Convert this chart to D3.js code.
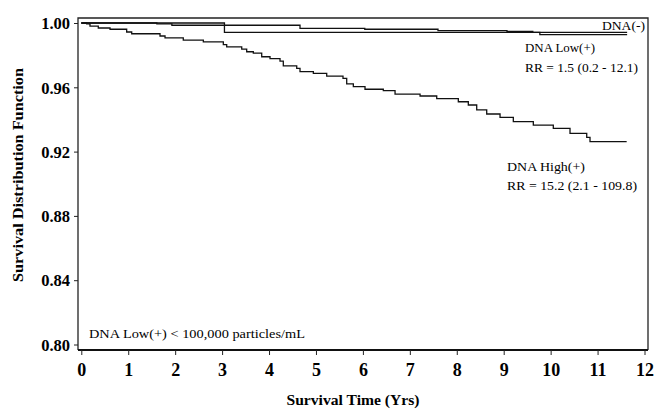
<!DOCTYPE html>
<html>
<head>
<meta charset="utf-8">
<script src="https://cdn.jsdelivr.net/npm/d3@7"></script>
<style>
  body { margin: 0; background: #fff; }
  text { font-family: "Liberation Serif", "Times New Roman", serif; fill: #000; }
</style>
</head>
<body>
<div id="chart"></div>
<script>
// =================================== DATA ===================================

const xTicks = [0, 1, 2, 3, 4, 5, 6, 7, 8, 9, 10, 11, 12]
const yTicks = [0.80, 0.84, 0.88, 0.92, 0.96, 1.00]

// DNA(-) : step times and survival after each step
const timeNeg = [0, 1.61, 1.93, 4.66, 6.04, 7.60, 9.07, 9.62, 9.77, 11.63]
const survNeg = [1.0, 0.9994, 0.9986, 0.9967, 0.9961, 0.9952, 0.9947, 0.9942, 0.9928, 0.9928]

// DNA Low(+)
const timeLow = [0, 3.05, 11.63]
const survLow = [1.0, 0.9942, 0.9942]

// DNA High(+)
const timeHigh = [0, 0.115, 0.185, 0.362, 0.612, 0.967, 1.074, 1.677, 1.784, 2.173, 2.600,
  3.026, 3.098, 3.418, 3.524, 3.665, 3.844, 4.021, 4.234, 4.304, 4.590, 4.660, 4.944,
  5.229, 5.576, 5.655, 5.796, 6.045, 6.435, 6.685, 7.218, 7.573, 8.033, 8.246, 8.425,
  8.638, 8.922, 9.205, 9.631, 10.057, 10.413, 10.769, 10.839, 11.62]
const survHigh = [1.0, 0.9994, 0.9981, 0.9969, 0.9961, 0.9944, 0.9933, 0.9919, 0.9907, 0.9894, 0.9882,
  0.9865, 0.9851, 0.9838, 0.9821, 0.9812, 0.9790, 0.9778, 0.9763, 0.9733, 0.9718, 0.9697, 0.9687,
  0.9670, 0.9656, 0.9621, 0.9604, 0.9588, 0.9579, 0.9558, 0.9546, 0.9529, 0.9510, 0.9490, 0.9459,
  0.9434, 0.9413, 0.9386, 0.9365, 0.9345, 0.9314, 0.9289, 0.9262, 0.9262]

// =================================== GRAPH SETTINGS ===================================

const width = 665
const height = 412

const svg = d3.select('#chart')
  .append('svg')
  .attr('width', width)
  .attr('height', height)

const x = d3.scaleLinear().domain([0, 12]).range([81.3, 644.5])
const y = d3.scaleLinear().domain([0.80, 1.00]).range([344.5, 23])

const frame = { left: 78, right: 648, top: 18, bottom: 350 }

// =================================== FRAME ===================================

svg.append('path')
  .attr('d', `M${frame.left},${frame.bottom} V${frame.top} H${frame.right} V${frame.bottom}`)
  .attr('fill', 'none')
  .attr('stroke', '#222')
  .attr('stroke-width', 1.3)

svg.append('line')
  .attr('x1', frame.left).attr('x2', frame.right)
  .attr('y1', frame.bottom).attr('y2', frame.bottom)
  .attr('stroke', '#111')
  .attr('stroke-width', 2)

// =================================== AXES ===================================

const xAxis = svg.append('g')
  .attr('transform', `translate(0,${frame.bottom})`)
  .call(d3.axisBottom(x).tickValues(xTicks).tickSize(5).tickPadding(8).tickFormat(d3.format('d')))
xAxis.select('.domain').remove()
xAxis.selectAll('line').attr('stroke', '#222')
xAxis.selectAll('text')
  .style('font-family', '"Liberation Serif", serif')
  .style('font-size', '18px')
  .style('font-weight', 'bold')

const yAxis = svg.append('g')
  .attr('transform', `translate(${frame.left},0)`)
  .call(d3.axisLeft(y).tickValues(yTicks).tickSize(4).tickPadding(4).tickFormat(d3.format('.2f')))
yAxis.select('.domain').remove()
yAxis.selectAll('line').attr('stroke', '#222')
yAxis.selectAll('text')
  .attr('dy', '0.35em')
  .style('font-family', '"Liberation Serif", serif')
  .style('font-size', '16.5px')
  .style('font-weight', 'bold')

svg.append('text')
  .attr('x', 353)
  .attr('y', 405)
  .attr('text-anchor', 'middle')
  .attr('textLength', 133)
  .attr('lengthAdjust', 'spacingAndGlyphs')
  .style('font-size', '15.5px')
  .style('font-weight', 'bold')
  .text('Survival Time (Yrs)')

svg.append('text')
  .attr('transform', 'translate(23,175) rotate(-90)')
  .attr('text-anchor', 'middle')
  .attr('textLength', 214)
  .attr('lengthAdjust', 'spacingAndGlyphs')
  .style('font-size', '14.5px')
  .style('font-weight', 'bold')
  .text('Survival Distribution Function')

// =================================== CURVES ===================================

const line = d3.line()
  .x(d => x(d[0]))
  .y(d => y(d[1]))
  .curve(d3.curveStepAfter)

const series = [
  d3.zip(timeNeg, survNeg),
  d3.zip(timeLow, survLow),
  d3.zip(timeHigh, survHigh)
]

svg.selectAll('.curve')
  .data(series)
  .enter().append('path')
  .attr('class', 'curve')
  .attr('d', line)
  .attr('fill', 'none')
  .attr('stroke', '#111')
  .attr('stroke-width', 1.3)

// =================================== LABELS ===================================

const labels = [
  { text: 'DNA(-)', x: 645, y: 30, anchor: 'end', len: 43 },
  { text: 'DNA Low(+)', x: 525, y: 52, anchor: 'start', len: 70 },
  { text: 'RR = 1.5 (0.2 - 12.1)', x: 525, y: 72, anchor: 'start', len: 113 },
  { text: 'DNA High(+)', x: 507, y: 171, anchor: 'start', len: 78 },
  { text: 'RR = 15.2 (2.1 - 109.8)', x: 507, y: 190, anchor: 'start', len: 130 },
  { text: 'DNA Low(+) < 100,000 particles/mL', x: 89, y: 338, anchor: 'start', len: 216 }
]

svg.append('g')
  .selectAll('text')
  .data(labels)
  .enter().append('text')
  .attr('x', d => d.x)
  .attr('y', d => d.y)
  .attr('text-anchor', d => d.anchor)
  .attr('textLength', d => d.len)
  .attr('lengthAdjust', 'spacingAndGlyphs')
  .style('font-size', '13.5px')
  .text(d => d.text)
</script>
</body>
</html>
